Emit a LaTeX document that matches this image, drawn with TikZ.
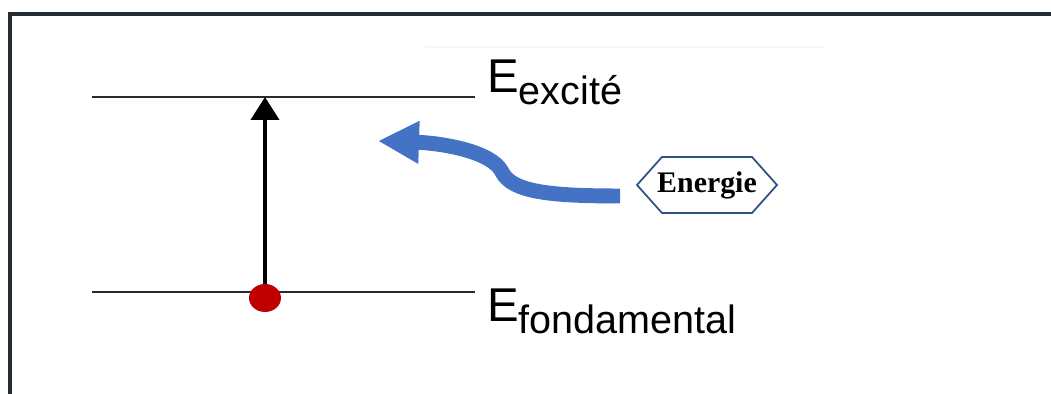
\documentclass[tikz,border=0pt]{standalone}
\usepackage{fontspec}
\setmainfont{Liberation Sans}
\newfontfamily\boxfont{Liberation Serif}
\usepackage{tikz}
\usetikzlibrary{arrows.meta,calc,shapes.geometric}
\definecolor{frmdark}{HTML}{262C35}
\definecolor{lvlgrey}{HTML}{2A2A2A}
\definecolor{elecred}{HTML}{C00000}
\definecolor{photblue}{HTML}{4472C4}
\definecolor{hexblue}{HTML}{2E5283}

\begin{document}
\begin{tikzpicture}[x=0.02cm,y=0.02cm,
  level/.style={lvlgrey,line width=1pt},
  lvllabel/.style={anchor=base west,inner sep=0pt,font=\fontsize{27}{28}\selectfont}]
\useasboundingbox (0,0) rectangle (1051,394);
% outer frame, cut off at the right and bottom
\draw[frmdark,line width=2.2pt] (10,0) -- (10,380) -- (1051,380);
\draw[black!3,line width=1.5pt] (425,347) -- (825,347);
% the two levels
\draw[level] (92,297) -- (475,297);
\draw[level] (92,102) -- (475,102);
\node[lvllabel] (eexc) at (487,301) {E\raisebox{-6.5pt}{\fontsize{22.5}{23}\selectfont excité}};
\node[lvllabel] (efond) at (487,72) {E\raisebox{-6.5pt}{\fontsize{22.5}{23}\selectfont fondamental}};
% transition
\coordinate (low) at (265,102);
\coordinate (up) at (265,297);
\draw[-{Triangle[length=0.46cm,width=0.56cm]},black,line width=2.3pt] (low) -- (up);
\node[ellipse,fill=elecred,minimum width=0.64cm,minimum height=0.56cm,inner sep=0pt] (elec) at (265,96) {};
% absorbed energy
\node[font=\boxfont\bfseries\fontsize{17}{18}\selectfont,inner sep=0pt] (energie) at (707,209) {Energie};
\draw[hexblue,line width=1pt] ($(energie)+(-70,0)$) -- ($(energie)+(-45,28)$) -- ($(energie)+(45,28)$)
  -- ($(energie)+(70,0)$) -- ($(energie)+(45,-28)$) -- ($(energie)+(-45,-28)$) -- cycle;
\coordinate (src) at (620,198);
\coordinate (dst) at (378,253);
\draw[-{Triangle[length=0.82cm,width=0.8cm]},photblue,line width=8.5pt]
  (src) .. controls (550,198) and (512,202) .. (502,222) .. controls (492,243) and (440,251) .. (dst);
\end{tikzpicture}
\end{document}
